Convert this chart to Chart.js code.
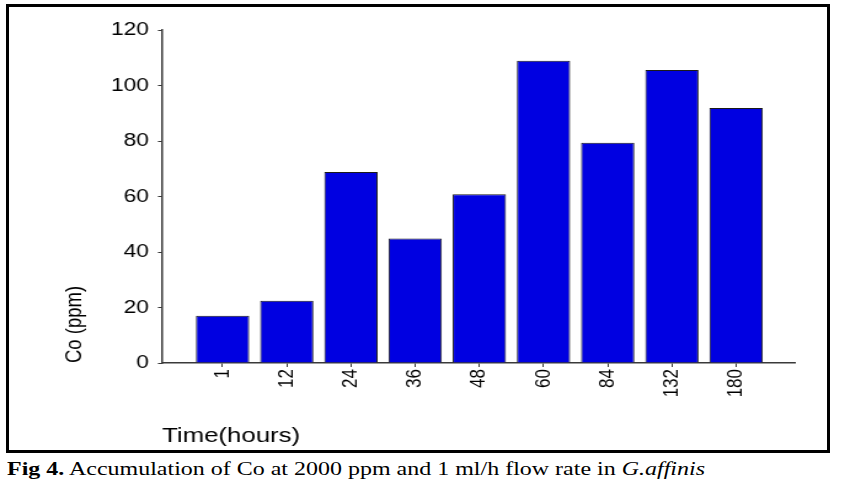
<!DOCTYPE html>
<html>
<head>
<meta charset="utf-8">
<script src="https://cdn.jsdelivr.net/npm/chart.js@4"></script>
<style>
  body { margin: 0; background: #fff; width: 843px; height: 496px; position: relative; overflow: hidden; }
  #frame { position: absolute; left: 6px; top: 4px; width: 824px; height: 449px; border: 3px solid #000; box-sizing: border-box; }
  #wrap { position: absolute; left: 0; top: 0; width: 685px; height: 455px; transform: scaleX(1.23); transform-origin: 0 0; }
  #caption { position: absolute; left: 7px; top: 459px; font-family: "Liberation Serif", "Times New Roman", serif; font-size: 19px; line-height: 19px; white-space: nowrap; color: #000; transform: scaleX(1.262); transform-origin: 0 0; }
</style>
</head>
<body>
<div id="frame"></div>
<div id="wrap"><canvas id="chart"></canvas></div>
<div id="caption"><b>Fig 4.</b> Accumulation of Co at 2000 ppm and 1 ml/h flow rate in <i>G.affinis</i></div>
<script>
// sampling times (hours) and Co accumulation (ppm)
const timeLabels = ['1', '12', '24', '36', '48', '60', '84', '132', '180'];
const coValues = [17, 22.4, 68.8, 44.9, 60.8, 108.9, 79.4, 105.6, 91.9];
const yTicks = [0, 20, 40, 60, 80, 100, 120];

const axisColor = '#3a3a3a';

const ctx = document.getElementById('chart').getContext('2d');
const chart = new Chart(ctx, {
  type: 'bar',
  data: {
    datasets: [{
      label: 'Co (ppm)',
      data: coValues.map((v, i) => ({ x: i, y: v })),
      backgroundColor: '#0000e1',
      borderColor: '#1a1a1a',
      borderWidth: 1,
      borderSkipped: 'bottom',
      categoryPercentage: 1,
      barPercentage: 0.83
    }]
  },
  options: {
    responsive: true,
    maintainAspectRatio: false,
    animation: false,
    layout: { padding: { top: 30, right: 38.7, left: 0, bottom: 0 } },
    plugins: { legend: { display: false }, tooltip: { enabled: false } },
    scales: {
      x: {
        type: 'linear',
        min: -0.944,
        max: 8.917,
        offset: false,
        afterBuildTicks: scale => {
          scale.ticks = timeLabels.map((_, i) => ({ value: i }));
        },
        afterFit: scale => { scale.height = 92; },
        grid: { offset: false, drawOnChartArea: false, drawTicks: true, tickLength: 4, color: axisColor },
        border: { display: true, color: axisColor, width: 1.5 },
        ticks: {
          minRotation: 90,
          maxRotation: 90,
          autoSkip: false,
          padding: 2,
          color: '#000',
          font: { family: 'Liberation Sans', size: 17 },
          callback: value => timeLabels[value]
        },
        title: {
          display: true,
          text: 'Time(hours)',
          align: 'start',
          color: '#000',
          font: { family: 'Liberation Sans', size: 21 },
          padding: { top: 0, bottom: 6.4 }
        }
      },
      y: {
        min: 0,
        max: 120,
        afterBuildTicks: scale => {
          scale.ticks = yTicks.map(v => ({ value: v }));
        },
        afterFit: scale => { scale.width = 131.7; },
        grid: { drawOnChartArea: false, drawTicks: true, tickLength: 3.3, color: axisColor },
        border: { display: true, color: axisColor, width: 1.5 },
        ticks: {
          padding: 7.3,
          color: '#000',
          font: { family: 'Liberation Sans', size: 18.5 }
        },
        title: {
          display: true,
          text: 'Co (ppm)',
          align: 'start',
          color: '#000',
          font: { family: 'Liberation Sans', size: 18.5 },
          padding: { top: 49.5, bottom: 0 }
        }
      }
    }
  }
});
</script>
</body>
</html>
